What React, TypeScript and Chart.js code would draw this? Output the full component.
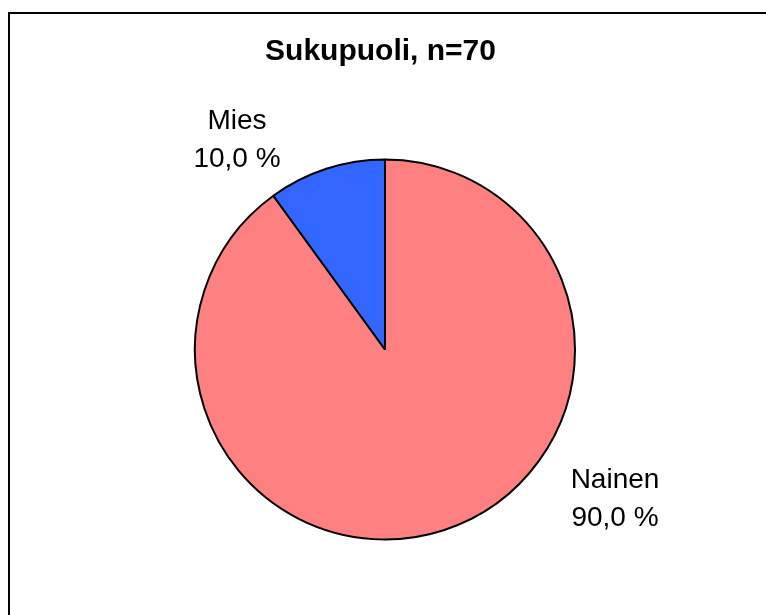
import React, { useEffect, useRef } from "react";
import { Chart, registerables } from "chart.js";

Chart.register(...registerables);

const titleText = "Sukupuoli, n=70";
const categories = ["Nainen", "Mies"];
const counts = [63, 7];
const sliceColors = ["#FF8080", "#3366FF"];

// label anchor offsets relative to pie center, in units of radius (styling)
const labelOffsets = [
  [1.2105, 0.827],
  [-0.779, -1.059],
];

const fmtPct = (v: number, total: number) =>
  (Math.round((v / total) * 1000) / 10).toFixed(1).replace(".", ",") + " %";

const decorPlugin = {
  id: "decor",
  beforeDraw(chart: any) {
    const ctx = chart.ctx;
    ctx.save();
    ctx.fillStyle = "#ffffff";
    ctx.fillRect(0, 0, chart.width, chart.height);
    ctx.strokeStyle = "#000000";
    ctx.lineWidth = 2;
    ctx.strokeRect(9, 13, chart.width + 20, chart.height + 20);
    ctx.fillStyle = "#000000";
    ctx.font = "bold 30px 'Liberation Sans', Arial, sans-serif";
    ctx.textAlign = "center";
    ctx.textBaseline = "alphabetic";
    ctx.fillText(titleText, 380.5, 60);
    ctx.restore();
  },
  afterDraw(chart: any) {
    const ctx = chart.ctx;
    const meta = chart.getDatasetMeta(0);
    const total = counts.reduce((a, b) => a + b, 0);
    ctx.save();
    ctx.fillStyle = "#000000";
    ctx.font = "28px 'Liberation Sans', Arial, sans-serif";
    ctx.textAlign = "center";
    ctx.textBaseline = "alphabetic";
    meta.data.forEach((arc: any, i: number) => {
      const r = arc.outerRadius;
      const ax = arc.x + labelOffsets[i][0] * r;
      const ay = arc.y + labelOffsets[i][1] * r;
      ctx.fillText(categories[i], ax, ay - 19);
      ctx.fillText(fmtPct(counts[i], total), ax, ay + 19);
    });
    ctx.restore();
  },
};

export default function App() {
  const ref = useRef<HTMLCanvasElement | null>(null);
  useEffect(() => {
    if (!ref.current) return;
    const chart = new Chart(ref.current, {
      type: "pie",
      data: {
        labels: categories,
        datasets: [
          {
            data: counts,
            backgroundColor: sliceColors,
            borderColor: "#000000",
            borderWidth: 2,
          },
        ],
      },
      options: {
        responsive: false,
        animation: false,
        devicePixelRatio: 1,
        layout: { padding: { left: 194, right: 190, top: 158.5, bottom: 74.5 } },
        plugins: {
          legend: { display: false },
          title: { display: false },
          tooltip: { enabled: false },
        },
      },
      plugins: [decorPlugin],
    });
    return () => chart.destroy();
  }, []);
  return (
    <canvas
      ref={ref}
      width={766}
      height={615}
      style={{ position: "absolute", left: 0, top: 0, width: 766, height: 615 }}
    />
  );
}
